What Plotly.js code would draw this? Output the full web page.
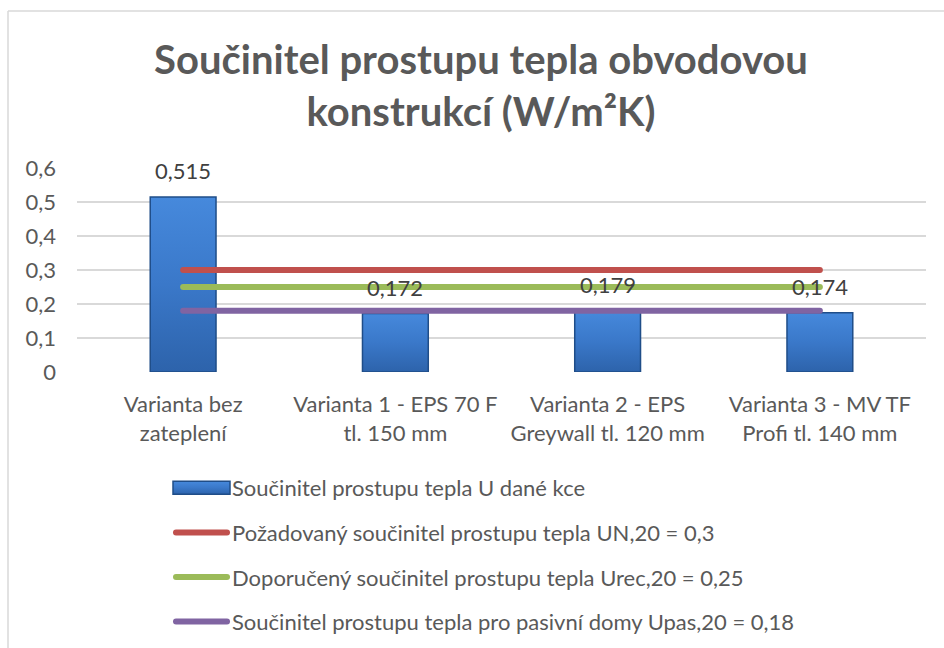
<!DOCTYPE html>
<html><head><meta charset="utf-8">
<script src="https://cdn.plot.ly/plotly-3.0.1.min.js"></script>
<style>
html,body{margin:0;padding:0;background:#fff;}
#chart{width:944px;height:648px;}
.scatterlayer .js-line{stroke-linecap:round;}
</style></head>
<body><div id="chart"></div>
<script>
const categories = ["Varianta bez<br>zateplení", "Varianta 1 - EPS 70 F<br>tl. 150 mm", "Varianta 2 - EPS<br>Greywall tl. 120 mm", "Varianta 3 - MV TF<br>Profi tl. 140 mm"];
const uValues = [0.515, 0.172, 0.179, 0.174];
const uLabels = ["0,515", "0,172", "0,179", "0,174"];
const uRequired = [0.3, 0.3, 0.3, 0.3];
const uRecommended = [0.25, 0.25, 0.25, 0.25];
const uPassive = [0.18, 0.18, 0.18, 0.18];
const seriesNames = [
  "Součinitel prostupu tepla U dané kce",
  "Požadovaný součinitel prostupu tepla UN,20 = 0,3",
  "Doporučený součinitel prostupu tepla Urec,20 = 0,25",
  "Součinitel prostupu tepla pro pasivní domy Upas,20 = 0,18"
];
const yTicks = [0, 0.1, 0.2, 0.3, 0.4, 0.5, 0.6];
const yTickText = ["0", "0,1", "0,2", "0,3", "0,4", "0,5", "0,6"];

const FONT = "Lato, 'Open Sans', sans-serif";
const W = 944, H = 648, ML = 77, MR = 18, MT = 168, MB = 276;
const pw = W - ML - MR, ph = H - MT - MB;
const px = x => (x - ML) / pw;
const py = y => (H - MB - y) / ph;

const traces = [
  {type: 'bar', x: categories, y: uValues, name: seriesNames[0], legendgroup: 'a',
   width: 0.31,
   marker: {color: '#3772C0', line: {color: '#1f4d88', width: 1.5}},
   hoverinfo: 'skip'},
  {type: 'scatter', mode: 'lines', x: categories, y: uRequired, name: seriesNames[1], legendgroup: 'b',
   line: {color: '#C0504D', width: 6}},
  {type: 'scatter', mode: 'lines', x: categories, y: uRecommended, name: seriesNames[2], legendgroup: 'c',
   line: {color: '#9BBB59', width: 6}},
  {type: 'scatter', mode: 'lines', x: categories, y: uPassive, name: seriesNames[3], legendgroup: 'd',
   line: {color: '#8064A2', width: 6}}
];

const annotations = categories.map((c, i) => ({
  x: c, y: uValues[i], xref: 'x', yref: 'y', text: uLabels[i], showarrow: false,
  yanchor: 'bottom', yshift: 11,
  font: {family: FONT, size: 22, color: '#404040'}
}));

const layout = {
  width: W, height: H,
  margin: {l: ML, r: MR, t: MT, b: MB, autoexpand: false},
  paper_bgcolor: '#fff', plot_bgcolor: '#fff',
  separators: ', ',
  font: {family: FONT, color: '#595959'},
  title: {text: 'Součinitel prostupu tepla obvodovou<br>konstrukcí (W/m²K)',
    font: {family: FONT, size: 40, color: '#595959', weight: 'bold'},
    x: 481 / W, xanchor: 'center', xref: 'container',
    y: 1 - 74 / H, yanchor: 'middle', yref: 'container'},
  showlegend: true,
  legend: {x: px(168), xanchor: 'left', y: py(467), yanchor: 'top',
    font: {family: FONT, size: 22, color: '#595959'},
    tracegroupgap: 13, itemwidth: 54, bgcolor: 'rgba(0,0,0,0)'},
  xaxis: {type: 'category', range: [-0.5, 3.5], showgrid: false, zeroline: false,
    showline: false, ticks: '', ticklabelstandoff: 17,
    tickfont: {family: FONT, size: 22, color: '#595959'}, fixedrange: true},
  yaxis: {range: [0, 0.6], tickvals: yTicks, ticktext: yTickText,
    showgrid: true, gridcolor: '#d9d9d9', gridwidth: 1.5, zeroline: false, showline: false,
    tickfont: {family: FONT, size: 22, color: '#595959'}, ticklabelstandoff: 20, fixedrange: true},
  annotations: annotations,
  shapes: [
    {type: 'line', xref: 'paper', yref: 'paper', x0: px(8), x1: px(8), y0: py(11), y1: py(H + 5), line: {color: '#d9d9d9', width: 1.5}},
    {type: 'line', xref: 'paper', yref: 'paper', x0: px(8), x1: px(W + 5), y0: py(11), y1: py(11), line: {color: '#d9d9d9', width: 1.5}}
  ]
};

Plotly.newPlot('chart', traces, layout, {displayModeBar: false, staticPlot: true}).then(gd => {
  const svgNS = 'http://www.w3.org/2000/svg';
  const svg = gd.querySelector('svg.main-svg');
  let defs = svg.querySelector('defs');
  const mk = (id, x2, y2, stops) => {
    const g = document.createElementNS(svgNS, 'linearGradient');
    g.setAttribute('id', id); g.setAttribute('x1', '0'); g.setAttribute('y1', '0');
    g.setAttribute('x2', x2); g.setAttribute('y2', y2);
    stops.forEach(([o, c]) => {
      const s = document.createElementNS(svgNS, 'stop');
      s.setAttribute('offset', o); s.setAttribute('stop-color', c); g.appendChild(s);
    });
    defs.appendChild(g);
  };
  mk('barGrad', '0', '1', [['0', '#4689dc'], ['0.5', '#3a78c9'], ['1', '#2d63ab']]);
  gd.querySelectorAll('.barlayer .point path').forEach(p => { p.style.fill = 'url(#barGrad)'; });
  gd.querySelectorAll('.legend .legendpoints path').forEach(p => {
    if (p.classList.contains('legendundefined') || p.closest('.legendbar')) {
      p.setAttribute('d', 'M5,-6.5H62V6.5H5Z');
      p.setAttribute('transform', '');
      p.style.fill = 'url(#barGrad)';
    }
  });
  gd.querySelectorAll('.legend .legendlines path').forEach(p => {
    p.setAttribute('d', 'M8,0h51');
    p.style.strokeLinecap = 'round';
  });
});
</script></body></html>
